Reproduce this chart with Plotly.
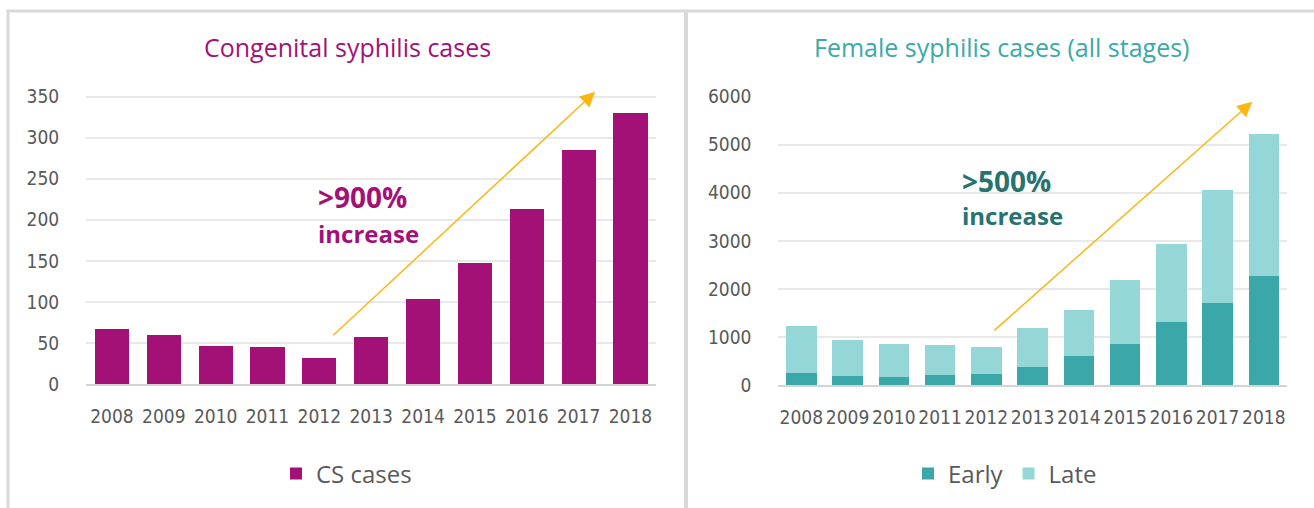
import plotly.graph_objects as go

years = ["2008", "2009", "2010", "2011", "2012", "2013", "2014", "2015", "2016", "2017", "2018"]
cs_cases = [67, 60, 46, 45, 32, 57, 103, 147, 213, 285, 330]
early = [250, 187, 166, 208, 229, 375, 597, 853, 1311, 1713, 2275]
late = [978, 750, 687, 618, 562, 811, 964, 1332, 1623, 2345, 2942]

W, H = 1314, 508
MAGENTA = "#A31177"
EARLY_C = "#3BA7A9"
LATE_C = "#95D7D7"
TITLE_TEAL = "#3AAAA9"
DARK_TEAL = "#27736F"
ARROW_C = "#FDB514"
GRAY_TXT = "#595959"
GRID = "#E9E9E9"
FRAME = "#D9D9D9"

TICK_FONT = dict(family="DejaVu Sans Condensed, Liberation Sans, sans-serif",
                 size=19, color=GRAY_TXT)
TXT_FAMILY = "Open Sans, Lato, sans-serif"

def px(xp):
    return xp / W

def py(yp):
    return 1 - yp / H

fig = go.Figure()
fig.add_trace(go.Bar(x=years, y=cs_cases, name="CS cases", marker=dict(color=MAGENTA, line=dict(width=0)),
                     xaxis="x", yaxis="y", legend="legend"))
fig.add_trace(go.Bar(x=years, y=early, name="Early", marker=dict(color=EARLY_C, line=dict(width=0)),
                     xaxis="x2", yaxis="y2", legend="legend2"))
fig.add_trace(go.Bar(x=years, y=late, name="Late", marker=dict(color=LATE_C, line=dict(width=0)),
                     xaxis="x2", yaxis="y2", legend="legend2"))

xcommon = dict(type="category", showgrid=False, showline=True, linecolor="#D4D4D4", linewidth=2,
               ticks="outside", ticklen=14, tickcolor="rgba(0,0,0,0)", tickfont=TICK_FONT,
               tickangle=0, automargin=False, fixedrange=True)
ycommon = dict(showgrid=True, gridcolor=GRID, gridwidth=2, zeroline=False, showline=False,
               ticks="outside", ticklen=22, tickcolor="rgba(0,0,0,0)", tickfont=TICK_FONT,
               automargin=False, fixedrange=True)

fig.update_layout(
    template="none",
    width=W, height=H,
    margin=dict(l=0, r=0, t=0, b=0, pad=0, autoexpand=False),
    paper_bgcolor="white", plot_bgcolor="white",
    barmode="stack", bargap=0.34,
    xaxis=dict(domain=[px(86), px(656.4)], anchor="y", **xcommon),
    yaxis=dict(domain=[py(384), py(88.5)], anchor="x", range=[0, 360], tick0=0, dtick=50, **ycommon),
    xaxis2=dict(domain=[px(778.2), px(1287)], anchor="y2", **xcommon),
    yaxis2=dict(domain=[py(385), py(96.7)], anchor="x2", range=[0, 6000], tick0=0, dtick=1000, **ycommon),
    legend=dict(orientation="h", x=px(276), xanchor="left", y=py(474), yanchor="middle",
                font=dict(family=TXT_FAMILY, size=24, color=GRAY_TXT), bgcolor="rgba(0,0,0,0)"),
    legend2=dict(orientation="h", x=px(908), xanchor="left", y=py(474), yanchor="middle", traceorder="normal",
                 font=dict(family=TXT_FAMILY, size=24, color=GRAY_TXT), bgcolor="rgba(0,0,0,0)"),
    showlegend=True,
)

# frame lines
fig.add_shape(type="line", xref="paper", yref="paper", x0=px(6), x1=1, y0=py(11), y1=py(11),
              line=dict(color=FRAME, width=3))
fig.add_shape(type="line", xref="paper", yref="paper", x0=px(8), x1=px(8), y0=py(11), y1=0,
              line=dict(color=FRAME, width=3))
fig.add_shape(type="line", xref="paper", yref="paper", x0=px(686), x1=px(686), y0=py(11), y1=0,
              line=dict(color=FRAME, width=4))

# titles
fig.add_annotation(text="Congenital syphilis cases", xref="paper", yref="paper", x=px(347), y=py(47),
                   xanchor="center", yanchor="middle", showarrow=False,
                   font=dict(family=TXT_FAMILY, size=25, color=MAGENTA))
fig.add_annotation(text="Female syphilis cases (all stages)", xref="paper", yref="paper", x=px(1001), y=py(47),
                   xanchor="center", yanchor="middle", showarrow=False,
                   font=dict(family=TXT_FAMILY, size=25, color=TITLE_TEAL))

# arrows
fig.add_annotation(x=9.32, y=356, ax=4.24, ay=57.6, xref="x", yref="y", axref="x", ayref="y",
                   showarrow=True, arrowhead=2, arrowsize=2, arrowwidth=1.5, arrowcolor=ARROW_C, text="")
fig.add_annotation(x=9.75, y=5896, ax=4.14, ay=1109, xref="x2", yref="y2", axref="x2", ayref="y2",
                   showarrow=True, arrowhead=2, arrowsize=2, arrowwidth=1.5, arrowcolor=ARROW_C, text="")

# callouts
fig.add_annotation(text="<b>>900%</b>", xref="paper", yref="paper", x=px(316), y=py(196.5),
                   xanchor="left", yanchor="middle", showarrow=False,
                   font=dict(family=TXT_FAMILY, size=28, color=MAGENTA))
fig.add_annotation(text="<b>increase</b>", xref="paper", yref="paper", x=px(316), y=py(233),
                   xanchor="left", yanchor="middle", showarrow=False,
                   font=dict(family=TXT_FAMILY, size=24, color=MAGENTA))
fig.add_annotation(text="<b>>500%</b>", xref="paper", yref="paper", x=px(960), y=py(180.5),
                   xanchor="left", yanchor="middle", showarrow=False,
                   font=dict(family=TXT_FAMILY, size=28, color=DARK_TEAL))
fig.add_annotation(text="<b>increase</b>", xref="paper", yref="paper", x=px(960), y=py(215),
                   xanchor="left", yanchor="middle", showarrow=False,
                   font=dict(family=TXT_FAMILY, size=24, color=DARK_TEAL))

fig.write_html("out.html", config={"displayModeBar": False},
               post_script="document.body.style.margin='0';")
